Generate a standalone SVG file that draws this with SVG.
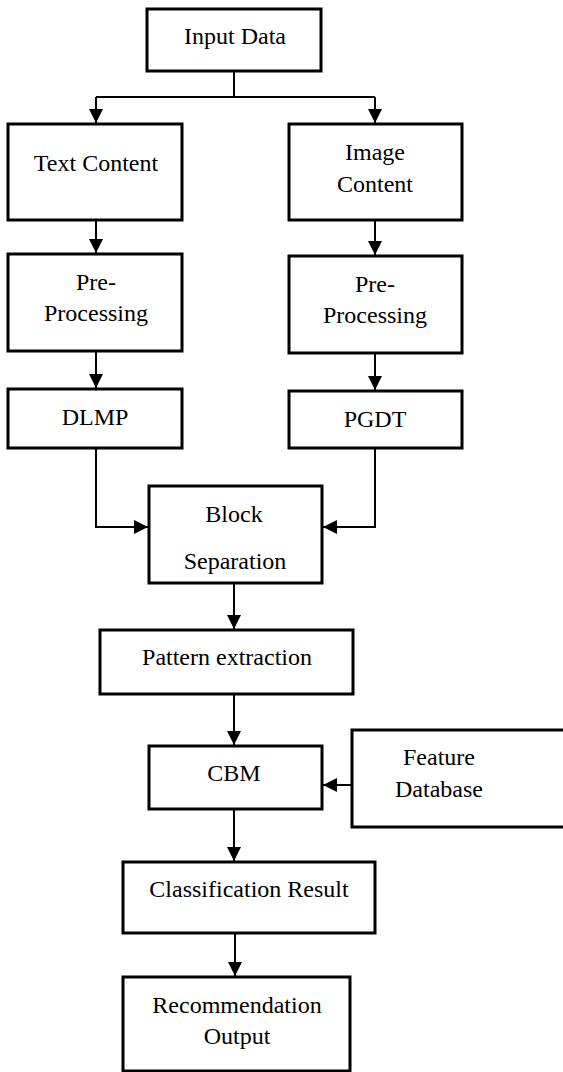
<svg xmlns="http://www.w3.org/2000/svg" width="563" height="1072" viewBox="0 0 563 1072">
<style>
.box{fill:#fff;stroke:#000;stroke-width:3}
.t{font-size:24px;fill:#000;text-anchor:middle}
.c{fill:none;stroke:#000;stroke-width:2}
</style>
<defs>
<marker id="ah" markerUnits="userSpaceOnUse" markerWidth="14" markerHeight="14" viewBox="0 0 14 14" refX="14" refY="7" orient="auto">
<path d="M0,0 L14,7 L0,14 Z" fill="#000"/>
</marker>
</defs>
<rect width="563" height="1072" fill="#fff"/>
<g id="connectors">
<path class="c" d="M234,71 V97 M96,97 H375"/>
<path class="c" d="M96,97 V123" marker-end="url(#ah)"/>
<path class="c" d="M375,97 V123" marker-end="url(#ah)"/>
<path class="c" d="M96,220 V253" marker-end="url(#ah)"/>
<path class="c" d="M375,220 V255" marker-end="url(#ah)"/>
<path class="c" d="M96,351 V388" marker-end="url(#ah)"/>
<path class="c" d="M375,353 V390" marker-end="url(#ah)"/>
<path class="c" d="M96,448 V527 H148" marker-end="url(#ah)"/>
<path class="c" d="M375,448 V527 H323" marker-end="url(#ah)"/>
<path class="c" d="M234,583 V629" marker-end="url(#ah)"/>
<path class="c" d="M234,694 V745" marker-end="url(#ah)"/>
<path class="c" d="M352,785 H323" marker-end="url(#ah)"/>
<path class="c" d="M234,809 V861" marker-end="url(#ah)"/>
<path class="c" d="M235,933 V976" marker-end="url(#ah)"/>
</g>
<g font-family="Liberation Serif, DejaVu Serif, serif">
<g id="input-data"><rect class="box" x="147" y="9" width="174" height="62"/><text class="t" x="235" y="44">Input Data</text></g>
<g id="text-content"><rect class="box" x="8" y="124" width="174" height="96"/><text class="t" x="96" y="171">Text Content</text></g>
<g id="image-content"><rect class="box" x="289" y="124" width="173" height="96"/><text class="t" x="375" y="160">Image</text><text class="t" x="375" y="192">Content</text></g>
<g id="pre-processing-text"><rect class="box" x="8" y="254" width="174" height="97"/><text class="t" x="96" y="290">Pre-</text><text class="t" x="96" y="321">Processing</text></g>
<g id="pre-processing-image"><rect class="box" x="289" y="256" width="173" height="97"/><text class="t" x="375" y="292">Pre-</text><text class="t" x="375" y="323">Processing</text></g>
<g id="dlmp"><rect class="box" x="8" y="389" width="174" height="59"/><text class="t" x="95" y="425">DLMP</text></g>
<g id="pgdt"><rect class="box" x="289" y="391" width="173" height="57"/><text class="t" x="375" y="427">PGDT</text></g>
<g id="block-separation"><rect class="box" x="149" y="486" width="173" height="97"/><text class="t" x="234" y="522">Block</text><text class="t" x="235" y="569">Separation</text></g>
<g id="pattern-extraction"><rect class="box" x="100" y="630" width="253" height="64"/><text class="t" x="227" y="665">Pattern extraction</text></g>
<g id="cbm"><rect class="box" x="149" y="746" width="173" height="63"/><text class="t" x="234" y="781">CBM</text></g>
<g id="feature-database"><rect class="box" x="352" y="730" width="215" height="97"/><text class="t" x="439" y="765">Feature</text><text class="t" x="439" y="797">Database</text></g>
<g id="classification-result"><rect class="box" x="123" y="862" width="252" height="71"/><text class="t" x="249" y="897">Classification Result</text></g>
<g id="recommendation-output"><rect class="box" x="123" y="977" width="227" height="94"/><text class="t" x="237" y="1013">Recommendation</text><text class="t" x="237" y="1044">Output</text></g>
</g>
</svg>
